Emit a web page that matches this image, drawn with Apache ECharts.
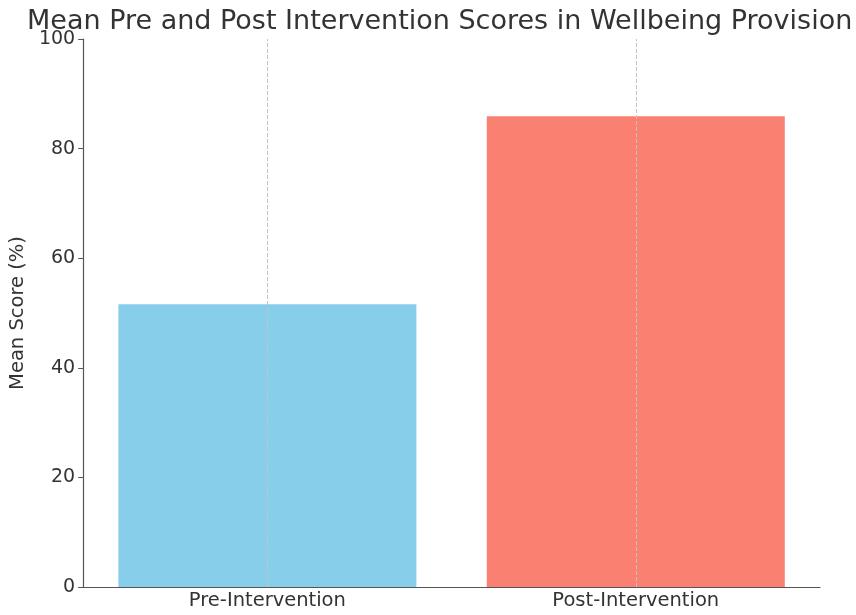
<!DOCTYPE html>
<html>
<head>
<meta charset="utf-8">
<script src="https://cdn.jsdelivr.net/npm/echarts@6/dist/echarts.min.js"></script>
<style>
  html, body { margin: 0; padding: 0; background: #fff; }
  #chart { width: 856px; height: 615px; }
</style>
</head>
<body>
<div id="chart"></div>
<script>
// data
var categories = ['Pre-Intervention', 'Post-Intervention'];
var meanScores = [51.6, 85.9];
var barColors = ['#87CEEB', '#FA8072'];
var yTicks = [0, 20, 40, 60, 80, 100];

var myChart = echarts.init(document.getElementById('chart'));

var option = {
  animation: false,
  textStyle: { fontFamily: 'DejaVu Sans', color: '#333' },
  title: {
    text: 'Mean Pre and Post Intervention Scores in Wellbeing Provision',
    left: 22,
    top: 3,
    textStyle: { fontFamily: 'DejaVu Sans', fontSize: 27, fontWeight: 'normal', color: '#333' }
  },
  grid: {
    left: 82,
    right: 36,
    top: 39,
    bottom: 28
  },
  xAxis: {
    type: 'category',
    data: categories,
    axisLine: { lineStyle: { color: '#555', width: 1.2 } },
    axisTick: { alignWithLabel: true, length: 5, lineStyle: { color: '#555' } },
    axisLabel: { fontSize: 19.5, color: '#333', margin: 4, fontFamily: 'DejaVu Sans' },
    splitLine: { show: false }
  },
  yAxis: {
    type: 'value',
    min: yTicks[0],
    max: yTicks[yTicks.length - 1],
    interval: 20,
    name: 'Mean Score (%)',
    nameLocation: 'middle',
    nameGap: 48,
    nameTextStyle: { fontSize: 19.5, color: '#333', fontFamily: 'DejaVu Sans' },
    axisLine: { show: true, lineStyle: { color: '#555', width: 1.2 } },
    axisTick: { show: true, length: 5, lineStyle: { color: '#555' } },
    axisLabel: { fontSize: 19, color: '#333', margin: 8, fontFamily: 'DejaVu Sans' },
    splitLine: { show: false }
  },
  series: [{
    type: 'bar',
    barWidth: 298,
    data: meanScores.map(function (v, i) {
      return { value: v, itemStyle: { color: barColors[i] } };
    }),
    // dashed x grid sits on top of the bars in the original
    markLine: {
      silent: true,
      symbol: 'none',
      label: { show: false },
      lineStyle: { color: '#c4c4c4', type: 'dashed', width: 1 },
      data: categories.map(function (c) { return { xAxis: c }; })
    }
  }]
};

myChart.setOption(option);
</script>
</body>
</html>
